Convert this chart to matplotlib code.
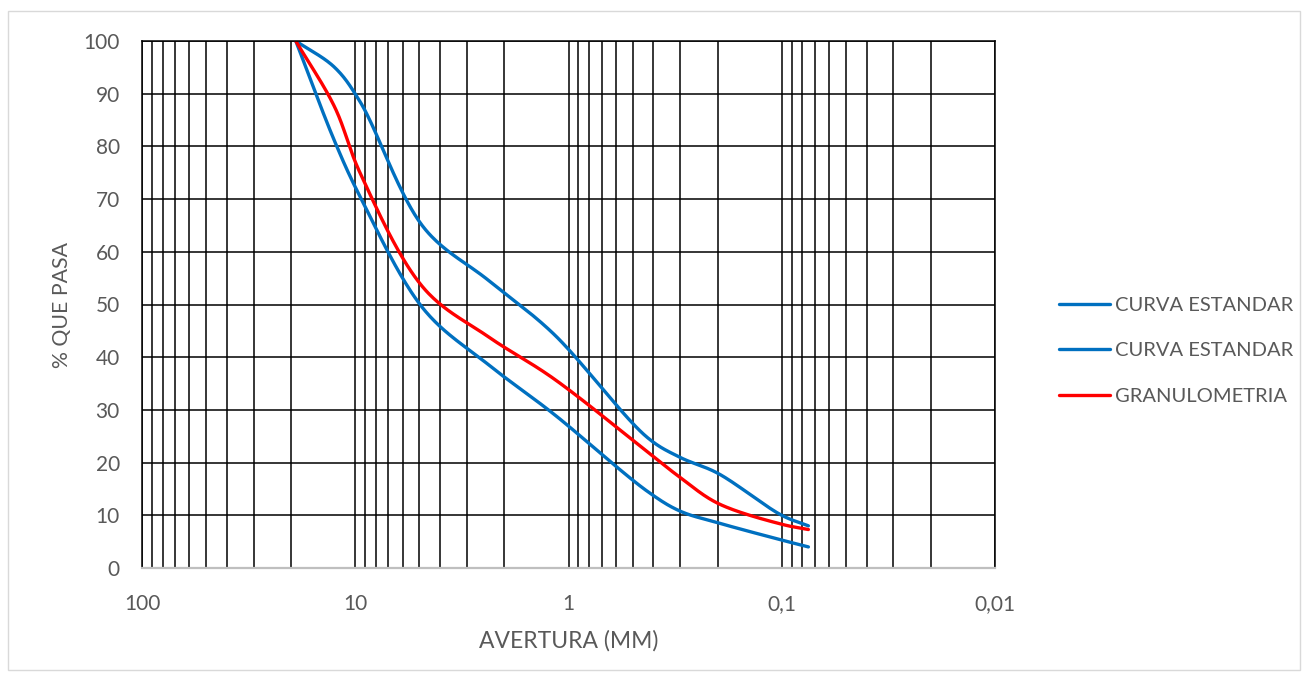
import numpy as np
import matplotlib
matplotlib.use("Agg")
import matplotlib.pyplot as plt
from matplotlib.ticker import LogLocator, FixedLocator, FuncFormatter, NullFormatter
from matplotlib.patches import Rectangle

# Datos (abertura en mm, % que pasa)
abertura = [19, 12.5, 9.5, 4.75, 2.36, 1.18, 0.425, 0.3, 0.2, 0.1, 0.075]
curva_sup = [100, 95, 88.5, 64.5, 54.5, 44.5, 24.7, 21, 18, 10, 8]
curva_inf = [100, 81, 70.5, 49, 38.5, 29.3, 14.5, 10.8, 8.6, 5.3, 4]
granulometria = [100, 87.5, 75, 53, 43.8, 36, 22, 17.2, 12.3, 8.3, 7.3]

etiquetas = ["CURVA ESTANDAR", "CURVA ESTANDAR", "GRANULOMETRIA"]
azul = "#0070C0"
rojo = "#FF0000"
gris = "#595959"

plt.rcParams["font.family"] = ["Lato", "DejaVu Sans"]


def suavizar(x, y, n=40):
    # linea suavizada (Catmull-Rom centripeta) en escala de pantalla
    X = -np.log10(np.array(x, dtype=float)) * 213.4
    Y = np.array(y, dtype=float) * 5.27
    P = np.column_stack([X, Y])
    P = np.vstack([2 * P[0] - P[1], P, 2 * P[-1] - P[-2]])
    out = []
    for i in range(1, len(P) - 2):
        p0, p1, p2, p3 = P[i - 1], P[i], P[i + 1], P[i + 2]
        t0 = 0.0
        t1 = t0 + np.linalg.norm(p1 - p0) ** 0.5
        t2 = t1 + np.linalg.norm(p2 - p1) ** 0.5
        t3 = t2 + np.linalg.norm(p3 - p2) ** 0.5
        t = np.linspace(t1, t2, n)[:, None]
        a1 = (t1 - t) / (t1 - t0) * p0 + (t - t0) / (t1 - t0) * p1
        a2 = (t2 - t) / (t2 - t1) * p1 + (t - t1) / (t2 - t1) * p2
        a3 = (t3 - t) / (t3 - t2) * p2 + (t - t2) / (t3 - t2) * p3
        b1 = (t2 - t) / (t2 - t0) * a1 + (t - t0) / (t2 - t0) * a2
        b2 = (t3 - t) / (t3 - t1) * a2 + (t - t1) / (t3 - t1) * a3
        c = (t2 - t) / (t2 - t1) * b1 + (t - t1) / (t2 - t1) * b2
        out.append(c)
    c = np.vstack(out)
    return 10 ** (-c[:, 0] / 213.4), c[:, 1] / 5.27


fig = plt.figure(figsize=(13.09, 6.79), dpi=100)
ax = fig.add_axes([142 / 1309, 1 - 568 / 679, (995 - 142) / 1309, (568 - 41) / 679])

# borde exterior del grafico
fig.patches.append(Rectangle((8 / 1309, 1 - 670 / 679), 1292 / 1309, 659 / 679,
                             transform=fig.transFigure, fill=False,
                             edgecolor="#D9D9D9", lw=1))

for serie, color, nombre in zip([curva_sup, curva_inf, granulometria],
                                [azul, azul, rojo], etiquetas):
    xs, ys = suavizar(abertura, serie)
    ax.plot(xs, ys, color=color, lw=2.4, label=nombre, solid_capstyle="round")

ax.set_xscale("log")
ax.set_xlim(100, 0.01)
ax.set_ylim(0, 100)
ax.xaxis.set_major_locator(FixedLocator([100, 10, 1, 0.1, 0.01]))
ax.xaxis.set_minor_locator(LogLocator(base=10, subs=np.arange(2, 10)))
ax.xaxis.set_major_formatter(FuncFormatter(lambda v, p: f"{v:g}".replace(".", ",")))
ax.xaxis.set_minor_formatter(NullFormatter())
ax.set_yticks(range(0, 101, 10))

ax.set_axisbelow(True)
ax.grid(which="both", axis="both", color="black", lw=1.1)
ax.tick_params(which="both", length=0, labelsize=15, labelcolor=gris)
ax.tick_params(axis="x", pad=19)
ax.tick_params(axis="y", pad=16)

for lado in ["top", "right", "left"]:
    ax.spines[lado].set_color("black")
    ax.spines[lado].set_linewidth(1.1)
ax.spines["bottom"].set_color("#BFBFBF")
ax.spines["bottom"].set_linewidth(1.6)

ax.set_xlabel("AVERTURA (MM)", fontsize=16.5, color=gris, labelpad=11)
ax.set_ylabel("% QUE PASA", fontsize=15.3, color=gris, labelpad=8)

ax.legend(loc="center left", bbox_to_anchor=(1.054, 0.412), frameon=False,
          fontsize=14.5, labelcolor=gris, handlelength=2.5, handletextpad=0.25,
          labelspacing=1.4)

fig.savefig("out.png", dpi=100)
